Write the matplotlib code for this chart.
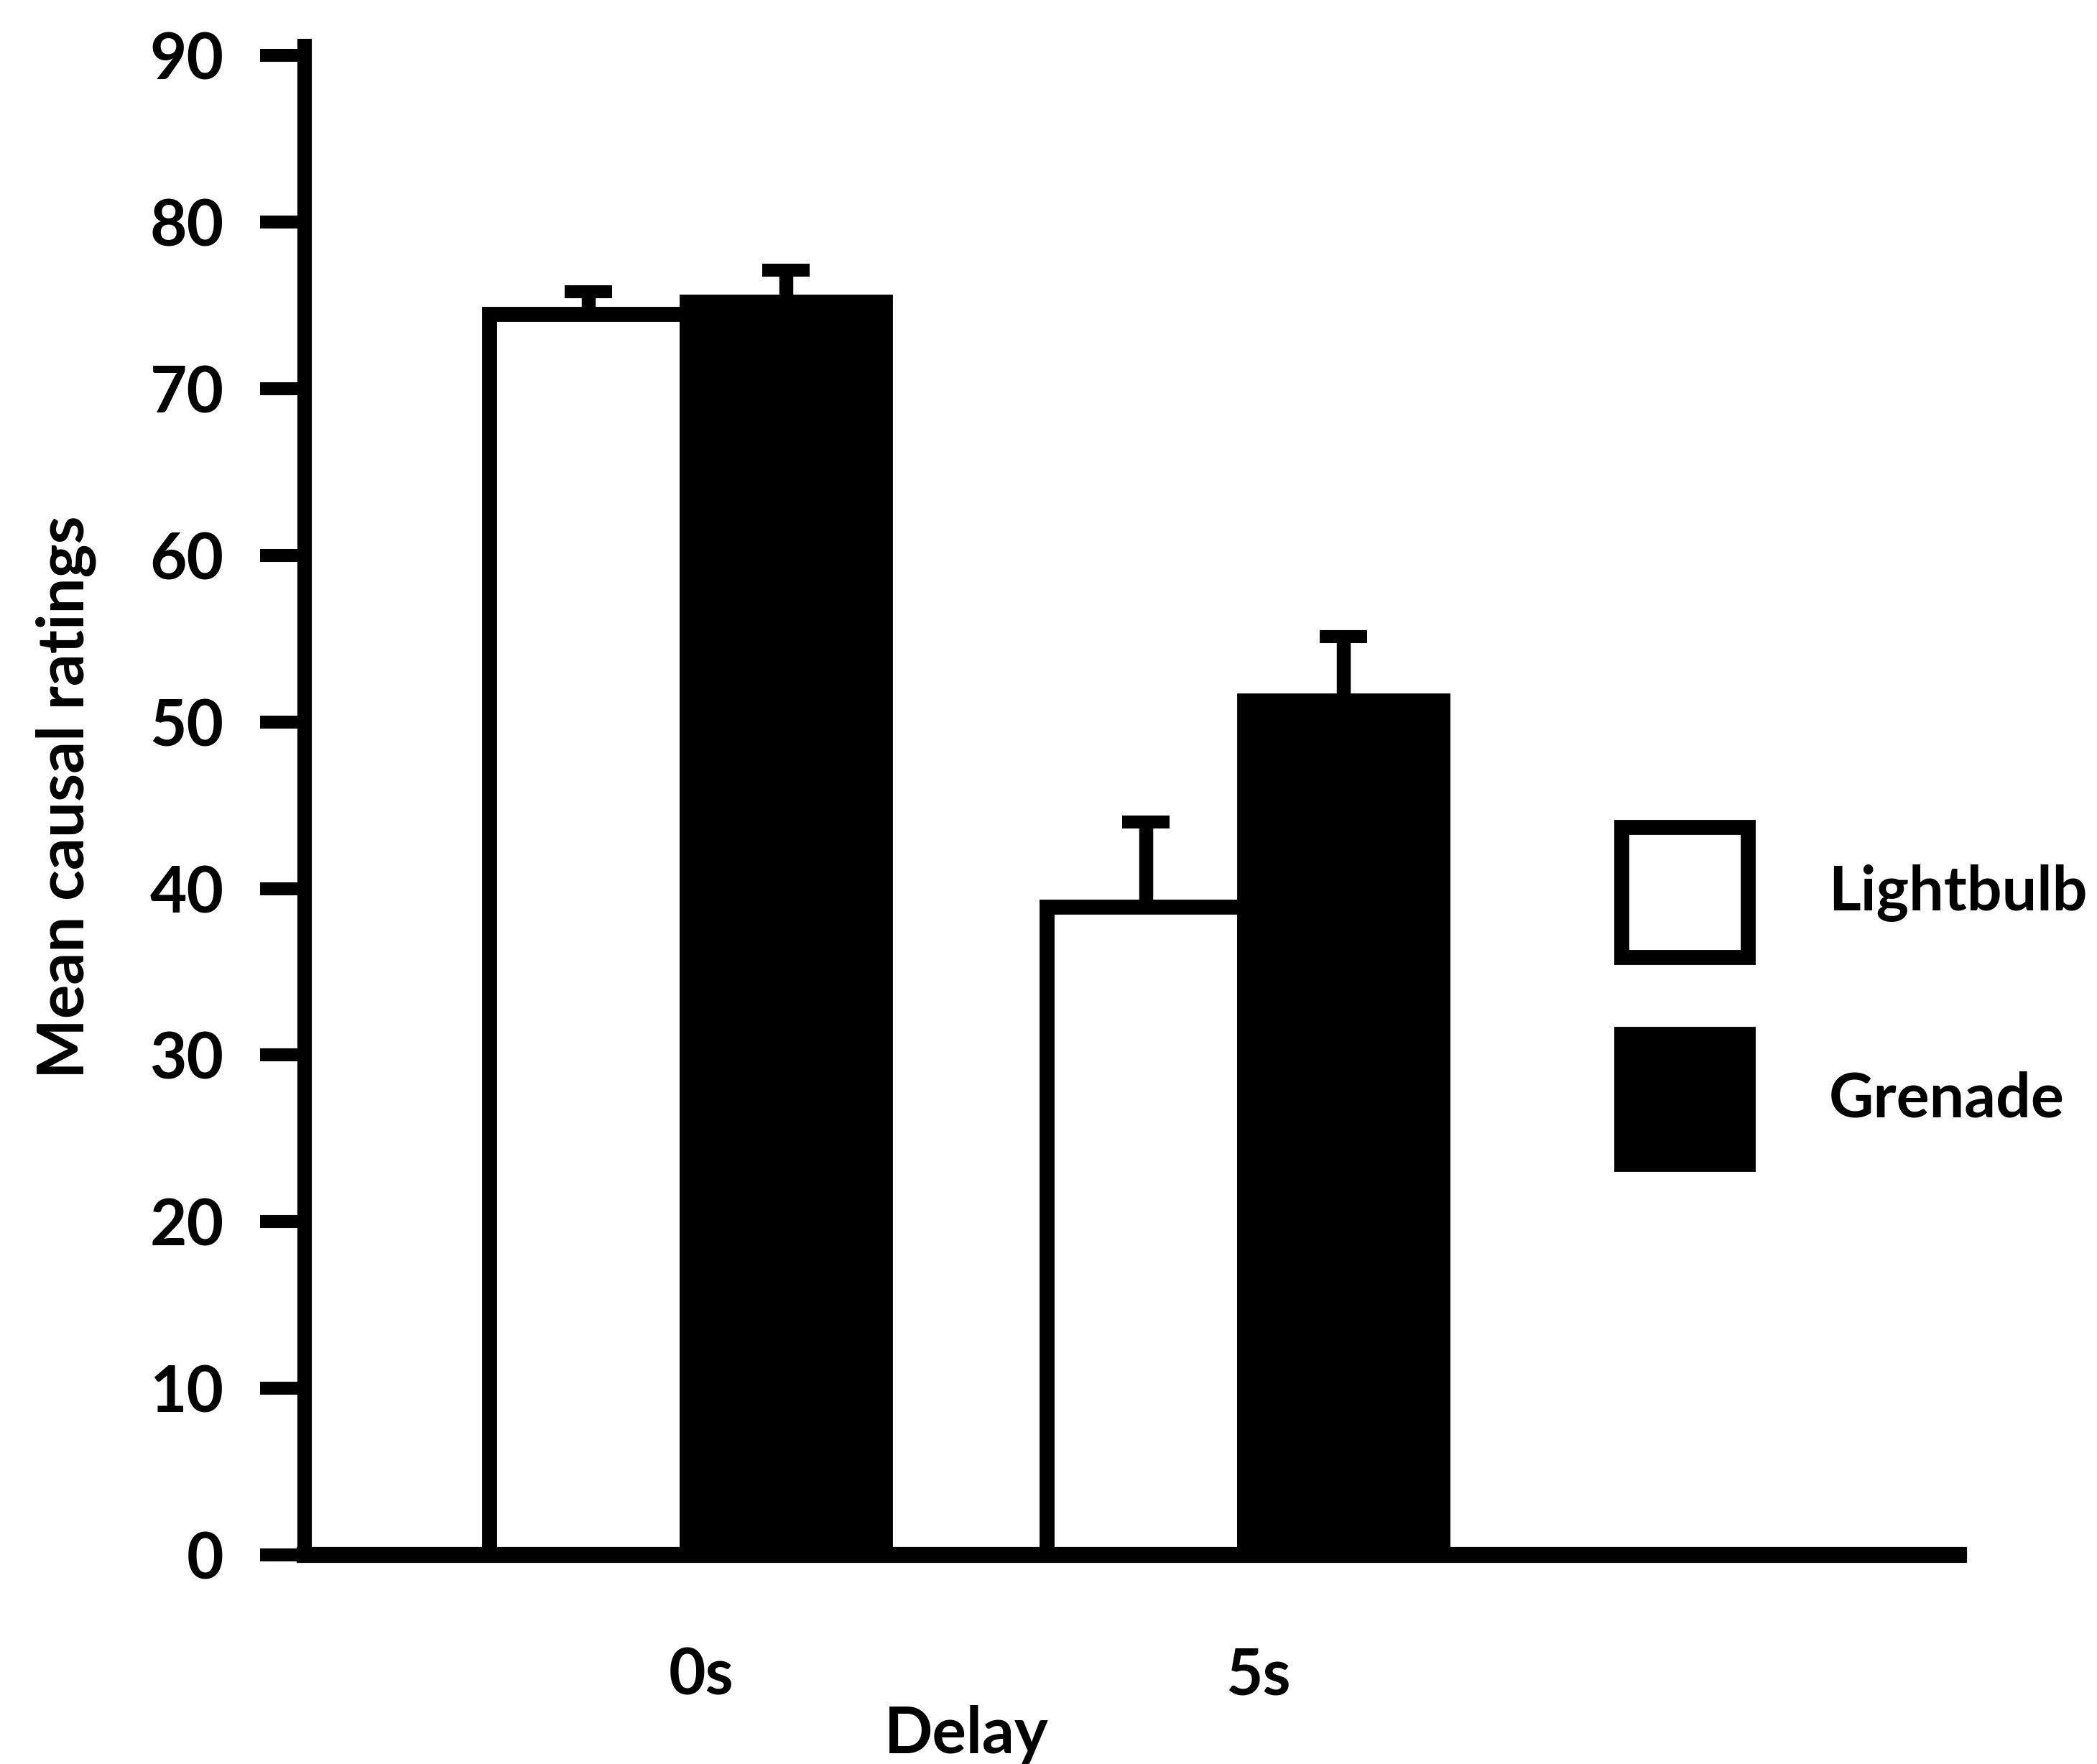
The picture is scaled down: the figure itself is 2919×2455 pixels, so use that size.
import numpy as np
import matplotlib
matplotlib.use('Agg')
import matplotlib.pyplot as plt

plt.rcParams['font.family'] = ['Lato', 'DejaVu Sans']
plt.rcParams['font.weight'] = 'bold'
plt.rcParams['axes.labelweight'] = 'bold'

# mean causal ratings per delay condition, with standard errors
delays = ['0s', '5s']
lightbulb = [74.5, 38.9]
grenade = [75.2, 51.3]
lightbulb_err = [1.3, 5.1]
grenade_err = [1.9, 3.8]
yticks = [0, 10, 20, 30, 40, 50, 60, 70, 80, 90]

fig = plt.figure(figsize=(29.19, 24.55), dpi=100)
ax = fig.add_axes([0.1453, 0.1185, 0.7889, 0.8595])

x = np.arange(len(delays))
w = 0.355
lw = 15

b1 = ax.bar(x - w/2, lightbulb, w, color='white', edgecolor='black', linewidth=lw, label='Lightbulb', zorder=2)
b2 = ax.bar(x + w/2, grenade, w, color='black', edgecolor='black', linewidth=lw, label='Grenade', zorder=2)

# upward-only error bars
for xs, vals, errs in [(x - w/2, lightbulb, lightbulb_err), (x + w/2, grenade, grenade_err)]:
    ax.errorbar(xs, vals, yerr=[np.zeros(len(errs)), errs], fmt='none', ecolor='black',
                elinewidth=14, capsize=24, capthick=13, zorder=1)

ax.set_xlim(-0.686, 2.282)
ax.set_ylim(0, 91)
ax.set_yticks(yticks)
ax.set_xticks(x + 0.025)
ax.set_xticklabels(delays)

ax.spines['top'].set_visible(False)
ax.spines['right'].set_visible(False)
ax.spines['left'].set_linewidth(14.5)
ax.spines['bottom'].set_linewidth(16)
ax.spines['left'].set_capstyle('butt')

ax.tick_params(axis='y', direction='out', length=45, width=13, pad=36, labelsize=64)
ax.tick_params(axis='x', length=0, pad=92, labelsize=64)

ax.set_xlabel('Delay', fontsize=64)
ax.xaxis.set_label_coords(0.40, -0.099)
ax.set_ylabel('Mean causal ratings', fontsize=64)
ax.yaxis.set_label_coords(-0.126, 0.5)

fig.legend(handles=[b1, b2], loc='upper left', bbox_to_anchor=(0.7732, 0.5312),
           bbox_transform=fig.transFigure, frameon=False, fontsize=62,
           borderpad=0, borderaxespad=0, handlelength=2.05, handleheight=2.85,
           labelspacing=1.25, handletextpad=1.3)

fig.savefig('out.png', dpi=100)
